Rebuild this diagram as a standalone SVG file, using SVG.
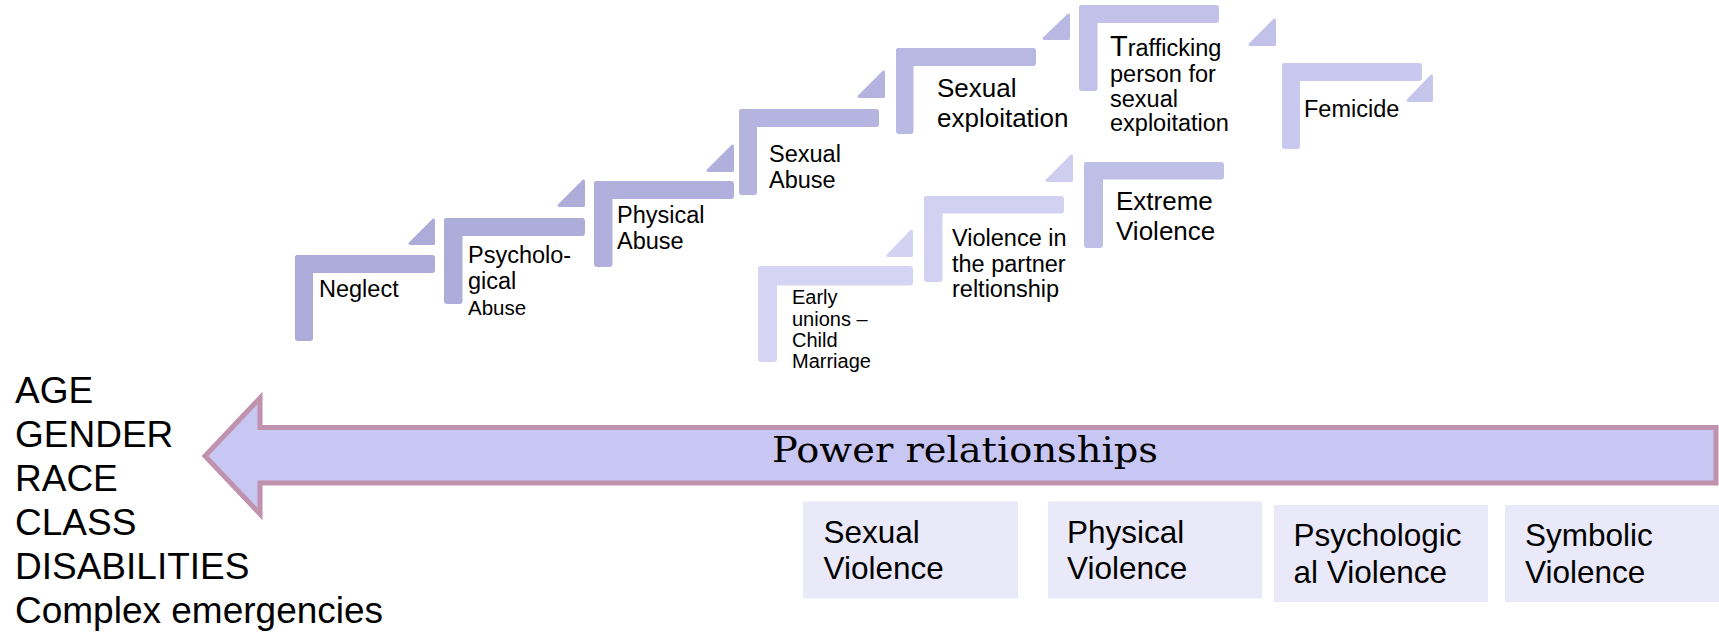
<svg xmlns="http://www.w3.org/2000/svg" width="1719" height="634" viewBox="0 0 1719 634">
  <style>
    .lbl { font-family: "Liberation Sans", Arial, sans-serif; fill: #000; }
    .tri { stroke-width: 3; stroke-linejoin: round; }
    .box { fill: #EAE9F9; }
    .list { font-family: "Liberation Sans", Arial, sans-serif; font-size: 37px; fill: #000; }
  </style>

  <!-- upper staircase -->
  <g id="neglect" fill="#ACABD9">
    <rect x="295" y="255" width="18" height="86" rx="3"/>
    <rect x="295" y="255" width="140" height="18" rx="3"/>
    <polygon class="tri" stroke="#ACABD9" points="410,243.5 433.5,243.5 433.5,220"/>
    <text class="lbl" x="319" y="297" font-size="23.5">Neglect</text>
  </g>

  <g id="psychological-abuse" fill="#AEADDA">
    <rect x="444" y="218" width="18.5" height="86" rx="3"/>
    <rect x="444" y="218" width="141" height="18" rx="3"/>
    <polygon class="tri" stroke="#AEADDA" points="559,205.5 583.5,205.5 583.5,181"/>
    <text class="lbl" x="468" y="263" font-size="23.5">Psycholo-</text>
    <text class="lbl" x="468" y="289" font-size="23.5">gical</text>
    <text class="lbl" x="468" y="315" font-size="20.5">Abuse</text>
  </g>

  <g id="physical-abuse" fill="#B1B0DD">
    <rect x="594" y="181" width="18.5" height="86" rx="3"/>
    <rect x="594" y="181" width="140" height="18" rx="3"/>
    <polygon class="tri" stroke="#B1B0DD" points="708,170.5 732.5,170.5 732.5,146"/>
    <text class="lbl" x="617" y="223" font-size="23.5">Physical</text>
    <text class="lbl" x="617" y="248.5" font-size="23.5">Abuse</text>
  </g>

  <g id="sexual-abuse" fill="#B5B4E0">
    <rect x="739" y="109" width="18" height="86" rx="3"/>
    <rect x="739" y="109" width="140" height="18" rx="3"/>
    <polygon class="tri" stroke="#B5B4E0" points="859,96.5 883.5,96.5 883.5,72"/>
    <text class="lbl" x="769" y="162" font-size="23.5">Sexual</text>
    <text class="lbl" x="769" y="188" font-size="23.5">Abuse</text>
  </g>

  <g id="sexual-exploitation" fill="#B9B8E3">
    <rect x="896" y="48" width="17.5" height="86" rx="3"/>
    <rect x="896" y="48" width="140" height="18" rx="3"/>
    <polygon class="tri" stroke="#B9B8E3" points="1044,38.5 1068.5,38.5 1068.5,15"/>
    <text class="lbl" x="937" y="97" font-size="26">Sexual</text>
    <text class="lbl" x="937" y="127" font-size="26">exploitation</text>
  </g>

  <g id="trafficking" fill="#C2C1E9">
    <rect x="1079" y="5" width="18.5" height="86" rx="3"/>
    <rect x="1079" y="5" width="140" height="18" rx="3"/>
    <polygon class="tri" stroke="#C2C1E9" points="1250,44.5 1274.5,44.5 1274.5,20"/>
    <text class="lbl" x="1110" y="56" font-size="23.5"><tspan font-size="29">T</tspan>rafficking</text>
    <text class="lbl" x="1110" y="82" font-size="23.5">person for</text>
    <text class="lbl" x="1110" y="107" font-size="23.5">sexual</text>
    <text class="lbl" x="1110" y="131" font-size="23.5">exploitation</text>
  </g>

  <g id="femicide" fill="#C9C8EE">
    <rect x="1282" y="63" width="18" height="86" rx="3"/>
    <rect x="1282" y="63" width="140" height="18" rx="3"/>
    <polygon class="tri" fill="#C6C5EC" stroke="#C6C5EC" points="1408,100.5 1431.5,100.5 1431.5,76"/>
    <text class="lbl" x="1304" y="117" font-size="23.5">Femicide</text>
  </g>

  <!-- lower staircase -->
  <g id="early-unions" fill="#D5D4F3">
    <rect x="758" y="266" width="19" height="96" rx="3"/>
    <rect x="758" y="266" width="155" height="19.5" rx="3"/>
    <polygon class="tri" fill="#D3D2F2" stroke="#D3D2F2" points="888,255.5 911.5,255.5 911.5,231"/>
    <text class="lbl" x="792" y="304" font-size="20">Early</text>
    <text class="lbl" x="792" y="325.5" font-size="20">unions –</text>
    <text class="lbl" x="792" y="347" font-size="20">Child</text>
    <text class="lbl" x="792" y="368" font-size="20">Marriage</text>
  </g>

  <g id="partner-violence" fill="#D2D1F1">
    <rect x="924" y="196" width="18.5" height="86" rx="3"/>
    <rect x="924" y="196" width="140" height="17.5" rx="3"/>
    <polygon class="tri" fill="#CFCEF0" stroke="#CFCEF0" points="1047,180.5 1071.5,180.5 1071.5,156"/>
    <text class="lbl" x="952" y="246" font-size="23.5">Violence in</text>
    <text class="lbl" x="952" y="272" font-size="23.5">the partner</text>
    <text class="lbl" x="952" y="297" font-size="23.5">reltionship</text>
  </g>

  <g id="extreme-violence" fill="#BFBEE6">
    <rect x="1084" y="162" width="19" height="86" rx="3"/>
    <rect x="1084" y="162" width="140" height="17.5" rx="3"/>
    <text class="lbl" x="1116" y="210" font-size="26">Extreme</text>
    <text class="lbl" x="1116" y="240" font-size="26">Violence</text>
  </g>

  <!-- power arrow -->
  <g id="connectors">
    <polygon points="1716,427.5 260,427.5 260,398 205,456 260,514 260,483 1716,483"
             fill="#C8C6F2" stroke="#BF92AD" stroke-width="5" stroke-linejoin="miter"/>
    <text x="772" y="462" font-family="'DejaVu Serif', 'Liberation Serif', serif" font-size="36" textLength="386" lengthAdjust="spacingAndGlyphs" fill="#000">Power relationships</text>
  </g>

  <!-- factor list -->
  <g id="factors" class="list">
    <text x="15" y="402.5">AGE</text>
    <text x="15" y="446.5">GENDER</text>
    <text x="15" y="490.5">RACE</text>
    <text x="15" y="534.5">CLASS</text>
    <text x="15" y="578.5">DISABILITIES</text>
    <text x="15" y="622.5">Complex emergencies</text>
  </g>

  <!-- violence types -->
  <g id="sexual-violence">
    <rect class="box" x="803" y="501.5" width="215" height="97"/>
    <text class="lbl" x="823.5" y="542.5" font-size="31.5">Sexual</text>
    <text class="lbl" x="823.5" y="579" font-size="31.5">Violence</text>
  </g>
  <g id="physical-violence">
    <rect class="box" x="1048" y="501.5" width="214" height="97"/>
    <text class="lbl" x="1067" y="542.5" font-size="31.5">Physical</text>
    <text class="lbl" x="1067" y="579" font-size="31.5">Violence</text>
  </g>
  <g id="psychological-violence">
    <rect class="box" x="1274" y="505" width="214" height="97"/>
    <text class="lbl" x="1293.5" y="546" font-size="31.5">Psychologic</text>
    <text class="lbl" x="1293.5" y="582.5" font-size="31.5">al Violence</text>
  </g>
  <g id="symbolic-violence">
    <rect class="box" x="1505" y="505" width="214" height="97"/>
    <text class="lbl" x="1525" y="546" font-size="31.5">Symbolic</text>
    <text class="lbl" x="1525" y="582.5" font-size="31.5">Violence</text>
  </g>
</svg>
